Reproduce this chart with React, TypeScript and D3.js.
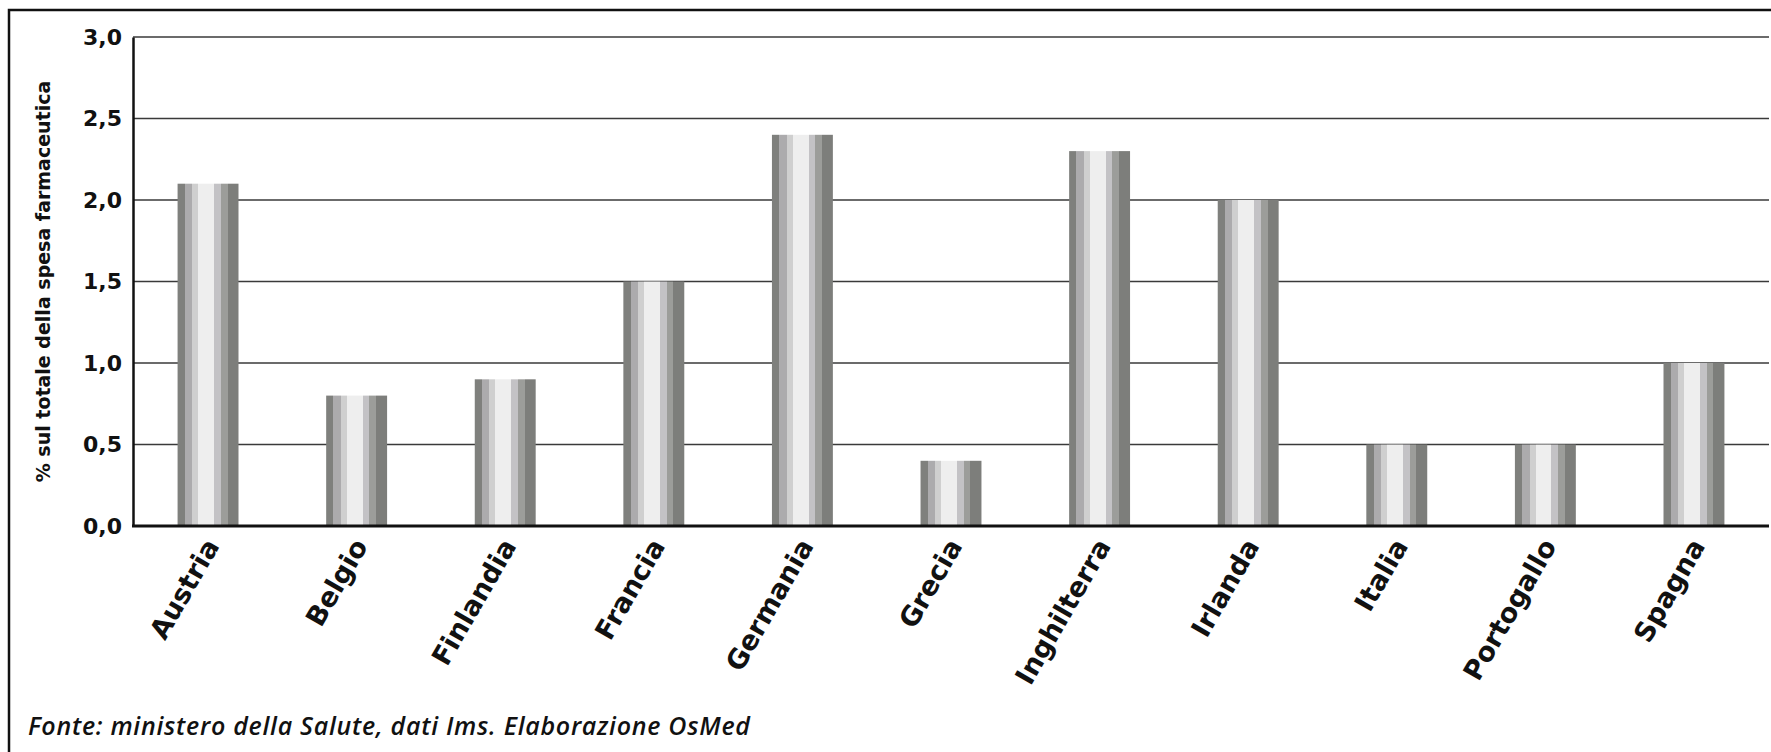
import { axisLeft, scaleBand, scaleLinear, select } from 'd3';
import { useEffect, useRef } from 'react';

const countries = [
  'Austria',
  'Belgio',
  'Finlandia',
  'Francia',
  'Germania',
  'Grecia',
  'Inghilterra',
  'Irlanda',
  'Italia',
  'Portogallo',
  'Spagna'
];
const shares = [2.1, 0.8, 0.9, 1.5, 2.4, 0.4, 2.3, 2.0, 0.5, 0.5, 1.0];
const yTicks = [0, 0.5, 1, 1.5, 2, 2.5, 3];

// stripes of the "cylinder" shading, left to right
const stripes = [
  { from: 0, to: 0.12, color: '#7f807d' },
  { from: 0.12, to: 0.24, color: '#acabad' },
  { from: 0.24, to: 0.34, color: '#cfcfcf' },
  { from: 0.34, to: 0.6, color: '#eeeeee' },
  { from: 0.6, to: 0.71, color: '#c3c2c5' },
  { from: 0.71, to: 0.82, color: '#9c9d9a' },
  { from: 0.82, to: 1, color: '#7d7e7b' }
];

const boldFont = '"DejaVu Sans", sans-serif';

function App(): JSX.Element {
  const svgRef = useRef<SVGSVGElement | null>(null);
  const W = 1771;
  const H = 752;
  const margin = { top: 37, right: 2, bottom: 226, left: 133 };

  useEffect(() => {
    if (svgRef.current) svgRef.current.innerHTML = '';
    const svg = select(svgRef.current);
    const plotW = W - margin.left - margin.right;
    const plotH = H - margin.top - margin.bottom;

    const x = scaleBand<string>()
      .domain(countries)
      .range([margin.left, margin.left + plotW])
      .paddingInner(0.59)
      .paddingOuter(0.3);
    const y = scaleLinear()
      .domain([0, 3])
      .range([margin.top + plotH, margin.top]);

    svg.append('rect').attr('width', W).attr('height', H).attr('fill', '#fff');

    // outer frame
    svg
      .append('rect')
      .attr('x', 9)
      .attr('y', 10)
      .attr('width', W + 10)
      .attr('height', H + 10)
      .attr('fill', 'none')
      .attr('stroke', '#111')
      .attr('stroke-width', 2.5);

    const grad = svg
      .append('defs')
      .append('linearGradient')
      .attr('id', 'cyl')
      .attr('x1', 0)
      .attr('x2', 1)
      .attr('y1', 0)
      .attr('y2', 0);
    stripes.forEach((s) => {
      grad.append('stop').attr('offset', s.from).attr('stop-color', s.color);
      grad.append('stop').attr('offset', s.to).attr('stop-color', s.color);
    });

    // gridlines
    svg
      .append('g')
      .selectAll('line')
      .data(yTicks.filter((t) => t > 0))
      .join('line')
      .attr('x1', margin.left)
      .attr('x2', margin.left + plotW)
      .attr('y1', (d) => y(d))
      .attr('y2', (d) => y(d))
      .attr('stroke', '#3a3a3a')
      .attr('stroke-width', 1.6);

    // bars
    svg
      .append('g')
      .selectAll('rect')
      .data(countries)
      .join('rect')
      .attr('x', (d) => x(d) as number)
      .attr('width', x.bandwidth())
      .attr('y', (_d, i) => y(shares[i]))
      .attr('height', (_d, i) => y(0) - y(shares[i]))
      .attr('fill', 'url(#cyl)');

    // y axis
    const yAxis = svg
      .append('g')
      .attr('transform', `translate(${margin.left},0)`)
      .call(
        axisLeft(y)
          .tickValues(yTicks)
          .tickSize(0)
          .tickPadding(11)
          .tickFormat((d) => Number(d).toFixed(1).replace('.', ','))
      );
    yAxis.select('.domain').attr('stroke', '#111').attr('stroke-width', 2.5);
    yAxis
      .selectAll('text')
      .attr('font-family', boldFont)
      .attr('font-weight', 'bold')
      .attr('font-size', '22px')
      .attr('fill', '#111');

    // baseline
    svg
      .append('line')
      .attr('x1', margin.left - 1)
      .attr('x2', margin.left + plotW)
      .attr('y1', y(0))
      .attr('y2', y(0))
      .attr('stroke', '#111')
      .attr('stroke-width', 3);

    // category labels
    svg
      .append('g')
      .selectAll('text')
      .data(countries)
      .join('text')
      .attr(
        'transform',
        (d) => `translate(${(x(d) as number) + x.bandwidth() / 2 + 12},${y(0) + 20}) rotate(-60)`
      )
      .attr('text-anchor', 'end')
      .attr('font-family', boldFont)
      .attr('font-weight', 'bold')
      .attr('font-size', '27px')
      .attr('fill', '#111')
      .text((d) => d);

    // y title
    svg
      .append('text')
      .attr('transform', `translate(50,${margin.top + plotH / 2}) rotate(-90)`)
      .attr('text-anchor', 'middle')
      .attr('font-family', boldFont)
      .attr('font-weight', 'bold')
      .attr('font-size', '19px')
      .attr('fill', '#111')
      .text('% sul totale della spesa farmaceutica');

    // source
    svg
      .append('text')
      .attr('x', 28)
      .attr('y', 735)
      .attr('font-family', '"Open Sans", sans-serif')
      .attr('font-style', 'italic')
      .attr('font-weight', 600)
      .attr('font-size', '25px')
      .attr('textLength', 722)
      .attr('lengthAdjust', 'spacing')
      .attr('fill', '#111')
      .text('Fonte: ministero della Salute, dati Ims. Elaborazione OsMed');
  }, []);

  return (
    <div style={{ position: 'absolute', left: 0, top: 0 }}>
      <svg ref={svgRef} width={W} height={H} style={{ display: 'block' }} />
    </div>
  );
}
export default App;
